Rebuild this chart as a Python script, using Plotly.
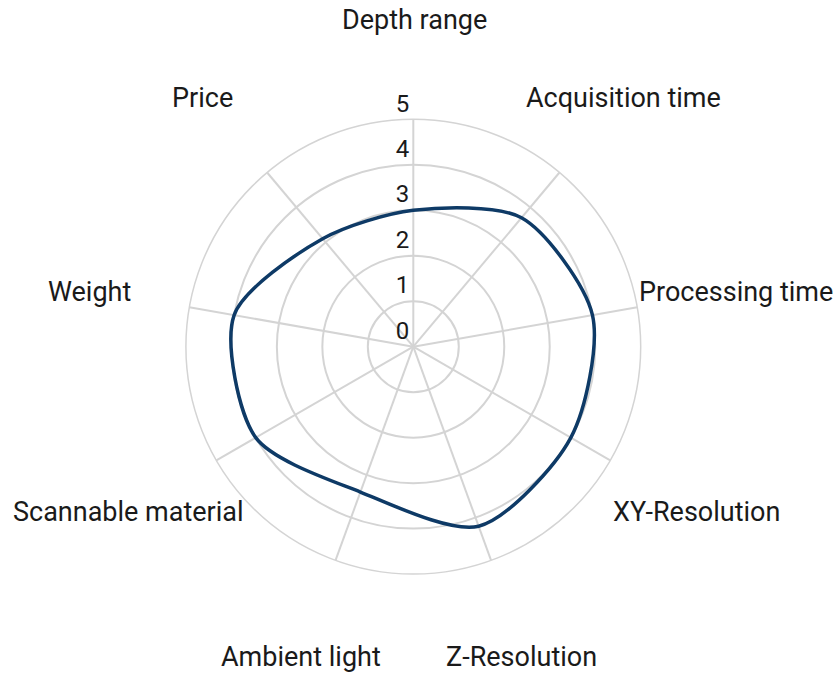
import plotly.graph_objects as go

categories = ["Depth range", "Acquisition time", "Processing time", "XY-Resolution",
              "Z-Resolution", "Ambient light", "Scannable material", "Weight", "Price"]
values = [3.0, 3.7, 4.0, 4.0, 4.2, 3.4, 4.0, 4.0, 3.1]
radial_ticks = [0, 1, 2, 3, 4, 5]

# label placement (pixel centres in the 836x674 page)
label_pos = [(414, 20), (623, 98), (736, 292), (696, 512), (521, 657),
             (301, 657), (128, 512), (89, 292), (202, 98)]

W, H = 836, 674
cx, cy, R = 413.3, 346.7, 227.4

fig = go.Figure()
fig.add_trace(go.Scatterpolar(
    r=values + values[:1],
    theta=categories + categories[:1],
    mode="lines",
    line=dict(color="#0e3a66", width=3.5, shape="spline", smoothing=0.8),
    hoverinfo="skip",
    showlegend=False,
))

for name, (px, py) in zip(categories, label_pos):
    fig.add_annotation(x=px / W, y=1 - py / H, xref="paper", yref="paper",
                       text=name, showarrow=False, xanchor="center", yanchor="middle",
                       font=dict(family="Roboto", size=27, color="#1a1a1a"))

fig.update_layout(
    width=W, height=H,
    margin=dict(l=0, r=0, t=0, b=0),
    paper_bgcolor="white",
    plot_bgcolor="white",
    font=dict(family="Roboto", color="#1a1a1a"),
    polar=dict(
        domain=dict(x=[(cx - R) / W, (cx + R) / W], y=[1 - (cy + R) / H, 1 - (cy - R) / H]),
        bgcolor="white",
        radialaxis=dict(
            range=[0, 5],
            tickvals=radial_ticks,
            ticktext=[f"{t}<br> " for t in radial_ticks],
            angle=90,
            tickangle=90,
            side="counterclockwise",
            showline=False,
            ticks="",
            gridcolor="#d4d4d4",
            gridwidth=1.5,
            tickfont=dict(family="Roboto", size=24, color="#1a1a1a"),
        ),
        angularaxis=dict(
            direction="clockwise",
            rotation=90,
            showticklabels=False,
            ticks="",
            showline=True,
            linecolor="#d4d4d4",
            linewidth=1.5,
            gridcolor="#d4d4d4",
            gridwidth=1.5,
        ),
    ),
)

fig.write_html("out.html",
               config={"displayModeBar": False},
               post_script="document.body.style.margin='0';document.body.style.overflow='hidden';")
